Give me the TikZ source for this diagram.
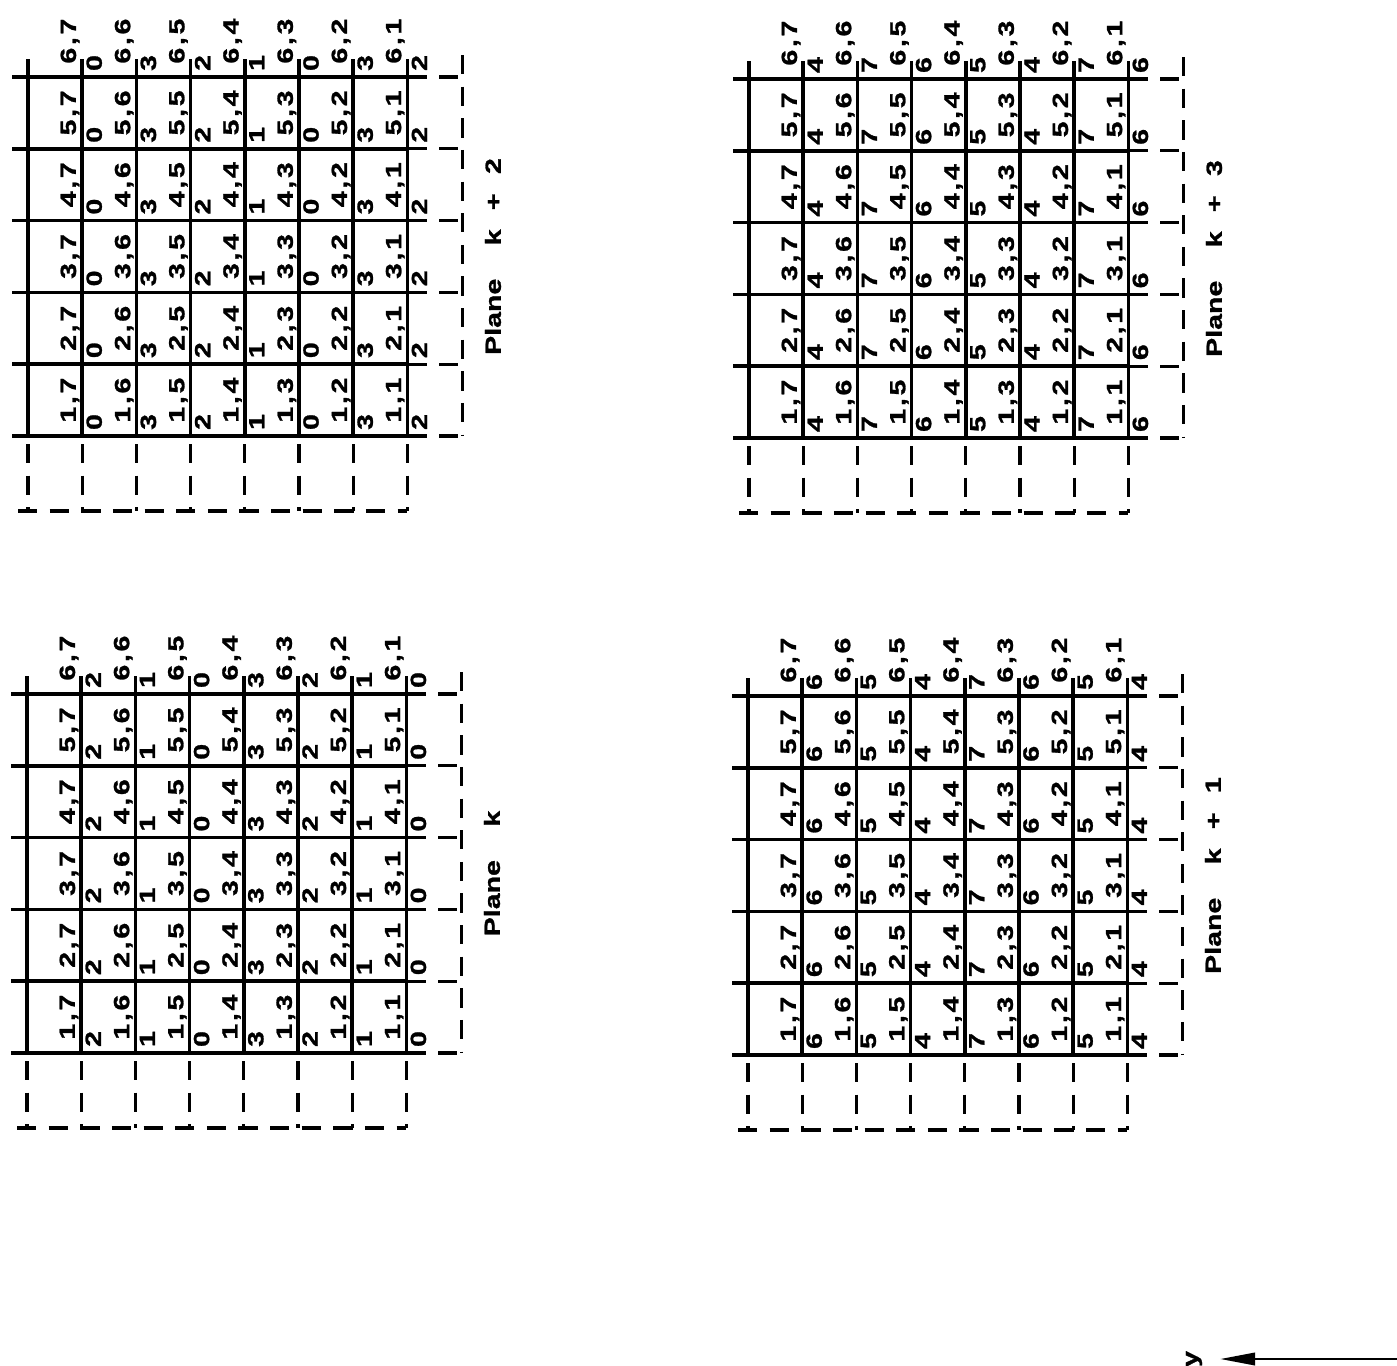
\documentclass[tikz,border=0pt]{standalone}
\usepackage{fontspec}
\usetikzlibrary{arrows.meta}
\newfontfamily\gridfont[FakeStretch=1.3,FakeBold=1.2]{Liberation Sans Bold}
\newcommand{\colw}{54.2}
\newcommand{\rowh}{71.8}

\begin{document}
\begin{tikzpicture}[x=0.02cm,y=-0.02cm,
        cellline/.style={line width=2pt},
        dashline/.style={line width=1.8pt,dash pattern=on 11pt off 7pt},
        cellnum/.style={font=\gridfont\fontsize{12.5}{14}\selectfont,rotate=90,inner sep=0pt},
        celldigit/.style={font=\gridfont\fontsize{12.5}{14}\selectfont,rotate=90,inner sep=0pt},
        planelabel/.style={font=\gridfont\fontsize{12.5}{14}\selectfont,rotate=90,inner sep=0pt}]
    \useasboundingbox (0,0) rectangle (1397,1366);

    % one panel per plane: origin, name, digit base, digit start, label
    \foreach \ox/\oy/\pn/\db/\ds/\pt in {
            28/77/a/0/0/{k\hspace{11pt}+\hspace{11pt}2},
            749/79/b/4/0/{k\hspace{11pt}+\hspace{11pt}3},
            27/694/c/0/2/{k},
            748/696/d/4/2/{k\hspace{11pt}+\hspace{11pt}1}}{
        \begin{scope}[shift={(\ox,\oy)}]
            % solid grid
            \foreach \r in {0,...,5}{
                \draw[cellline] (-16,\r*\rowh) -- (7*\colw,\r*\rowh);
            }
            \foreach \k in {0,...,7}{
                \draw[cellline] (\k*\colw,-18) -- (\k*\colw,5*\rowh);
            }

            % dashed column on the right
            \foreach \r in {0,...,5}{
                \draw[dashline] (7*\colw,\r*\rowh) -- (7*\colw+55,\r*\rowh);
            }
            \draw[dashline] (7*\colw+55,-22) -- (7*\colw+55,5*\rowh);

            % dashed row below
            \foreach \k in {0,...,7}{
                \draw[dashline] (\k*\colw,5*\rowh+8) -- (\k*\colw,5*\rowh+75);
            }
            \draw[dashline] (-10,5*\rowh+75) -- (7*\colw,5*\rowh+75);

            % cell indices i,j
            \foreach \i in {1,...,6}{
                \foreach \k in {0,...,6}{
                    \pgfmathtruncatemacro\j{7-\k}
                    \node[cellnum,name=\pn-\i-\j] at (\k*\colw+42,{(5.5-\i)*\rowh})
                        {\i\kern1.5pt,\kern1.5pt\j};
                }
            }

            % digits right of each line
            \foreach \i in {1,...,6}{
                \foreach \k in {1,...,7}{
                    \pgfmathtruncatemacro\dv{\db+mod(\ds-\k+9,4)}
                    \node[celldigit,name=\pn-d\i-\k] at (\k*\colw+12,{(6-\i)*\rowh-14}) {\dv};
                }
            }

            \node[planelabel,name=\pn-plane] at (465,2.5*\rowh)
                {Plane\hspace{19pt}\pt};
        \end{scope}
    }

    % direction
    \node[cellnum,name=ylab] at (1194,1359) {y};
    \coordinate (ystart) at (1397,1359);
    \draw[line width=1.6pt,-{Triangle[length=20pt,width=7pt]},shorten >=10pt]
        (ystart) -- (ylab.south);
\end{tikzpicture}
\end{document}
